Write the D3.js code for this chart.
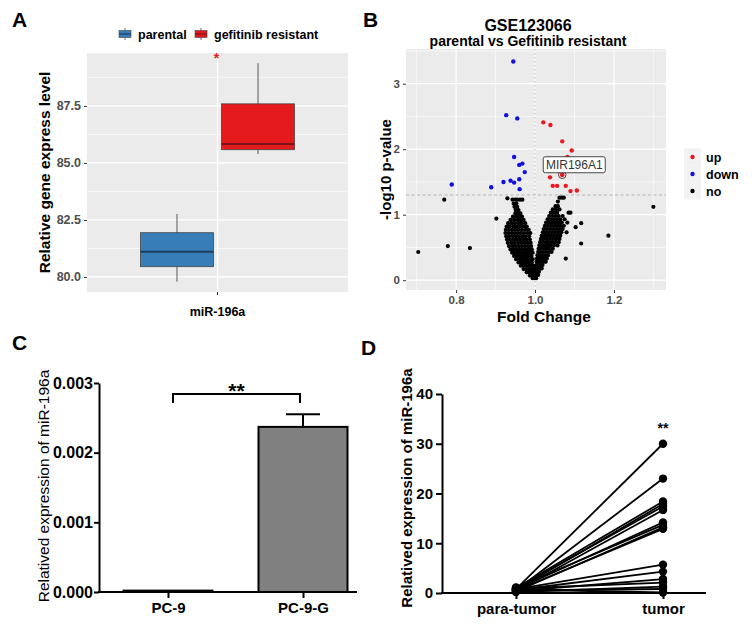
<!DOCTYPE html>
<html>
<head>
<meta charset="utf-8">
<script src="https://cdn.jsdelivr.net/npm/d3@7"></script>
<style>
body { margin: 0; background: #fff; }
svg { display: block; font-family: "Liberation Sans", Arial, sans-serif; }
</style>
</head>
<body>
<div id="fig"></div>
<script>
// ---------- data ----------
// A: boxplot of miR-196a
var boxGroups = ["parental", "gefitinib resistant"];
var boxColors = ["#377eb8", "#e41a1c"];
var boxMedColors = ["#1d3f5e", "#7a1416"];
var boxLow  = [79.79, 85.39];
var boxQ1   = [80.45, 85.58];
var boxMed  = [81.11, 85.83];
var boxQ3   = [81.94, 87.59];
var boxHigh = [82.76, 89.37];
var boxTicks = [80, 82.5, 85, 87.5];

// B: volcano plot  [fold change, -log10 p]
var upPts = [[1.021, 2.41], [1.039, 2.37], [1.069, 2.12], [1.093, 1.98], [1.082, 1.88],
  [1.038, 1.57], [1.045, 1.44], [1.056, 1.44], [1.078, 1.44], [1.090, 1.36], [1.106, 1.37]];
var downPts = [[0.945, 3.34], [0.927, 2.52], [0.955, 2.47], [0.947, 1.88], [0.960, 1.76],
  [0.968, 1.78], [0.974, 1.65], [0.789, 1.46], [0.889, 1.42], [0.920, 1.50], [0.938, 1.52],
  [0.947, 1.49], [0.960, 1.54], [0.961, 1.39]];
var labelGene = {name: "MIR196A1", fc: 1.069, p: 1.61};
var noPts = [[0.704, 0.43], [0.770, 1.23], [0.779, 0.52], [0.835, 0.49], [0.902, 0.94],
  [1.300, 1.12], [1.186, 0.68], [1.117, 0.56], [1.117, 0.87], [1.103, 0.81], [1.078, 0.33],
  [0.930, 1.25]];
var noLeftRows = [
  [1.23, [0.943, 0.950, 0.955, 0.962, 0.968]],
  [1.17, [0.946, 0.953]],
  [1.12, [0.948, 0.955]],
  [1.07, [0.951, 0.958]],
  [1.02, [0.950, 0.957, 0.963]],
  [0.97, [0.944, 0.953, 0.960, 0.967]],
  [0.92, [0.938, 0.947, 0.956, 0.963, 0.971]],
  [0.87, [0.932, 0.941, 0.949, 0.958, 0.966, 0.975]],
  [0.82, [0.928, 0.936, 0.945, 0.953, 0.962, 0.970, 0.979]],
  [0.77, [0.926, 0.934, 0.942, 0.950, 0.958, 0.967, 0.976, 0.984]],
  [0.72, [0.925, 0.933, 0.941, 0.948, 0.956, 0.964, 0.972, 0.981, 0.988]],
  [0.67, [0.927, 0.935, 0.944, 0.952, 0.960, 0.968, 0.976, 0.985]],
  [0.62, [0.929, 0.937, 0.946, 0.954, 0.962, 0.970, 0.978, 0.987]],
  [0.57, [0.931, 0.940, 0.948, 0.957, 0.965, 0.973, 0.981, 0.989]],
  [0.52, [0.934, 0.943, 0.951, 0.959, 0.967, 0.975, 0.983, 0.990]],
  [0.47, [0.938, 0.946, 0.954, 0.962, 0.970, 0.978, 0.986, 0.992]],
  [0.42, [0.942, 0.950, 0.958, 0.966, 0.974, 0.981, 0.988, 0.994]],
  [0.37, [0.947, 0.955, 0.963, 0.970, 0.977, 0.984, 0.991]],
  [0.32, [0.952, 0.960, 0.967, 0.974, 0.981, 0.988, 0.994]],
  [0.27, [0.958, 0.965, 0.972, 0.979, 0.986, 0.992]],
  [0.22, [0.964, 0.971, 0.978, 0.985, 0.991, 0.996]],
  [0.17, [0.971, 0.978, 0.985, 0.991, 0.996]],
  [0.12, [0.979, 0.986, 0.992, 0.997]],
  [0.07, [0.987, 0.993, 0.998]],
  [0.03, [0.994, 0.999, 1.003]]
];
var noRightRows = [
  [1.26, [1.062, 1.068, 1.073]],
  [1.20, [1.058]],
  [1.13, [1.052, 1.058]],
  [1.08, [1.045, 1.053, 1.062]],
  [1.03, [1.040, 1.048, 1.056, 1.085, 1.090]],
  [0.98, [1.036, 1.044, 1.052, 1.060, 1.070]],
  [0.93, [1.032, 1.040, 1.048, 1.056, 1.064, 1.075]],
  [0.88, [1.028, 1.036, 1.044, 1.052, 1.060, 1.068, 1.082]],
  [0.83, [1.025, 1.033, 1.041, 1.049, 1.057, 1.065, 1.073]],
  [0.78, [1.022, 1.030, 1.038, 1.046, 1.054, 1.062, 1.070]],
  [0.73, [1.020, 1.027, 1.035, 1.043, 1.051, 1.059, 1.067, 1.080]],
  [0.68, [1.017, 1.025, 1.032, 1.040, 1.048, 1.056, 1.064]],
  [0.63, [1.015, 1.022, 1.030, 1.038, 1.046, 1.054, 1.062]],
  [0.58, [1.013, 1.020, 1.028, 1.035, 1.043, 1.051, 1.060]],
  [0.53, [1.011, 1.018, 1.025, 1.032, 1.040, 1.048, 1.057]],
  [0.48, [1.009, 1.016, 1.023, 1.030, 1.037, 1.045]],
  [0.43, [1.008, 1.014, 1.021, 1.028, 1.035, 1.042]],
  [0.38, [1.006, 1.012, 1.019, 1.026, 1.033]],
  [0.33, [1.005, 1.011, 1.017, 1.024, 1.030]],
  [0.28, [1.004, 1.009, 1.015, 1.021, 1.027]],
  [0.23, [1.003, 1.008, 1.013, 1.019]],
  [0.18, [1.002, 1.007, 1.012, 1.017]],
  [0.13, [1.001, 1.005, 1.010]],
  [0.08, [1.000, 1.004, 1.008]]
];
var volXTicks = [0.8, 1.0, 1.2];
var volYTicks = [0, 1, 2, 3];
var volLegend = ["up", "down", "no"];
var volColors = {up: "#e8191f", down: "#1010e0", no: "#000"};

// C: bar chart
var barCats = ["PC-9", "PC-9-G"];
var barVals = [0.00002, 0.00237];
var barErr  = [0, 0.00018];
var barTicks = [0, 0.001, 0.002, 0.003];

// D: paired samples
var pairCats = ["para-tumor", "tumor"];
var paraVals  = [0.8, 0.5, 1.0, 0.6, 0.9, 0.4, 0.7, 1.1, 0.3, 0.5, 0.8, 0.6, 0.4, 0.9, 0.2, 0.5, 0.7];
var tumorVals = [30.0, 23.0, 18.4, 17.9, 17.4, 16.7, 14.2, 13.7, 13.2, 12.9, 5.7, 4.3, 2.8, 2.1, 1.3, 0.8, 0.1];
var pairTicks = [0, 10, 20, 30, 40];

// ---------- drawing ----------
var svg = d3.select("#fig").append("svg")
    .attr("width", 752)
    .attr("height", 632);

svg.append("rect").attr("width", 752).attr("height", 632).attr("fill", "#fff");

function panelLabel(t, x, y) {
    svg.append("text").attr("x", x).attr("y", y).text(t)
        .attr("font-size", 21).attr("font-weight", "bold");
}
panelLabel("A", 12, 27);
panelLabel("B", 363, 27);
panelLabel("C", 12, 350);
panelLabel("D", 361, 355);

function ggAxis(g) {
    g.select(".domain").remove();
    g.selectAll(".tick line").attr("stroke", "#333");
    g.selectAll(".tick text").attr("fill", "#4d4d4d").attr("font-weight", "bold")
        .attr("font-family", "Liberation Sans, Arial, sans-serif");
}

// ===== Panel A =====
var aL = 87, aR = 348, aT = 53, aB = 292;
var yA = d3.scaleLinear().domain([79.34, 89.82]).range([aB, aT]);
var xA = d3.scaleBand().domain(["miR-196a"]).range([aL, aR]);
var aMid = xA("miR-196a") + xA.bandwidth() / 2;
var xAg = d3.scaleBand().domain(boxGroups).range([aMid - 77, aMid + 77]).paddingInner(0.1);

var gA = svg.append("g");
gA.append("rect").attr("x", aL).attr("y", aT).attr("width", aR - aL).attr("height", aB - aT).attr("fill", "#ebebeb");
gA.selectAll(".minor").data(boxTicks.map(function(d) { return d + 1.25; })).join("line")
    .attr("x1", aL).attr("x2", aR).attr("y1", yA).attr("y2", yA)
    .attr("stroke", "#fff").attr("stroke-width", 0.6);
gA.selectAll(".major").data(boxTicks).join("line")
    .attr("x1", aL).attr("x2", aR).attr("y1", yA).attr("y2", yA)
    .attr("stroke", "#fff").attr("stroke-width", 1.2);
gA.append("line").attr("x1", aMid).attr("x2", aMid).attr("y1", aT).attr("y2", aB)
    .attr("stroke", "#fff").attr("stroke-width", 1.2);

boxGroups.forEach(function(gname, i) {
    var x0 = xAg(gname), w = xAg.bandwidth(), cx = x0 + w / 2;
    gA.append("line").attr("x1", cx).attr("x2", cx).attr("y1", yA(boxLow[i])).attr("y2", yA(boxHigh[i]))
        .attr("stroke", "#333").attr("stroke-width", 0.8);
    gA.append("rect").attr("x", x0).attr("y", yA(boxQ3[i])).attr("width", w)
        .attr("height", yA(boxQ1[i]) - yA(boxQ3[i]))
        .attr("fill", boxColors[i]).attr("stroke", "#444").attr("stroke-width", 0.8);
    gA.append("line").attr("x1", x0).attr("x2", x0 + w).attr("y1", yA(boxMed[i])).attr("y2", yA(boxMed[i]))
        .attr("stroke", boxMedColors[i]).attr("stroke-width", 2);
});

gA.append("text").attr("x", aMid - 1).attr("y", 63).attr("text-anchor", "middle")
    .attr("fill", "#e41a1c").attr("font-size", 14).attr("font-weight", "bold").text("*");

gA.append("g").attr("transform", "translate(" + aL + ",0)")
    .call(d3.axisLeft(yA).tickValues(boxTicks).tickFormat(d3.format(".1f")).tickSize(3).tickPadding(3))
    .call(ggAxis)
    .selectAll("text").attr("font-size", 12.5);
gA.append("g").attr("transform", "translate(0," + aB + ")")
    .call(d3.axisBottom(xA).tickSize(3).tickFormat(""))
    .call(ggAxis);
gA.append("text").attr("x", aMid).attr("y", 316).attr("text-anchor", "middle")
    .attr("font-size", 12.5).attr("font-weight", "bold").text("miR-196a");
gA.append("text").attr("transform", "translate(50," + ((aT + aB) / 2) + ") rotate(-90)")
    .attr("text-anchor", "middle").attr("font-size", 15.5).attr("font-weight", "bold")
    .text("Relative gene express level");

// legend A
var legA = gA.append("g");
var legX = [119, 195];
boxGroups.forEach(function(gname, i) {
    var lx = legX[i];
    legA.append("line").attr("x1", lx + 6).attr("x2", lx + 6).attr("y1", 28).attr("y2", 40)
        .attr("stroke", "#333").attr("stroke-width", 0.7);
    legA.append("rect").attr("x", lx).attr("y", 30.5).attr("width", 12).attr("height", 7)
        .attr("fill", boxColors[i]).attr("stroke", "#444").attr("stroke-width", 0.6);
    legA.append("line").attr("x1", lx).attr("x2", lx + 12).attr("y1", 34).attr("y2", 34)
        .attr("stroke", boxMedColors[i]).attr("stroke-width", 1.2);
    legA.append("text").attr("x", lx + 19).attr("y", 38.5).attr("font-size", 12.5)
        .attr("font-weight", "bold").text(gname);
});

// ===== Panel B =====
var bL = 406, bR = 666, bT = 49, bB = 290;
var xB = d3.scaleLinear().domain([0.673, 1.332]).range([bL, bR]);
var yB = d3.scaleLinear().domain([-0.15, 3.53]).range([bB, bT]);
var gB = svg.append("g");
gB.append("rect").attr("x", bL).attr("y", bT).attr("width", bR - bL).attr("height", bB - bT).attr("fill", "#ebebeb");
gB.selectAll(".mx").data(volXTicks.map(function(d) { return d - 0.1; }).concat([1.3])).join("line")
    .attr("x1", xB).attr("x2", xB).attr("y1", bT).attr("y2", bB).attr("stroke", "#fff").attr("stroke-width", 0.6);
gB.selectAll(".my").data(volYTicks.map(function(d) { return d + 0.5; })).join("line")
    .attr("x1", bL).attr("x2", bR).attr("y1", yB).attr("y2", yB).attr("stroke", "#fff").attr("stroke-width", 0.6);
gB.selectAll(".Mx").data(volXTicks).join("line")
    .attr("x1", xB).attr("x2", xB).attr("y1", bT).attr("y2", bB).attr("stroke", "#fff").attr("stroke-width", 1.2);
gB.selectAll(".My").data(volYTicks).join("line")
    .attr("x1", bL).attr("x2", bR).attr("y1", yB).attr("y2", yB).attr("stroke", "#fff").attr("stroke-width", 1.2);
gB.append("line").attr("x1", xB(1)).attr("x2", xB(1)).attr("y1", bT).attr("y2", bB)
    .attr("stroke", "#b5b5b5").attr("stroke-width", 1).attr("stroke-dasharray", "1.5,2.5");
gB.append("line").attr("x1", bL).attr("x2", bR).attr("y1", yB(-Math.log10(0.05))).attr("y2", yB(-Math.log10(0.05)))
    .attr("stroke", "#b5b5b5").attr("stroke-width", 1).attr("stroke-dasharray", "3,2.5");

var blackPts = noPts.slice();
noLeftRows.concat(noRightRows).forEach(function(r) {
    r[1].forEach(function(x) { blackPts.push([x, r[0]]); });
});
function dots(data, color, r) {
    gB.append("g").selectAll("circle").data(data).join("circle")
        .attr("cx", function(d) { return xB(d[0]); })
        .attr("cy", function(d) { return yB(d[1]); })
        .attr("r", r).attr("fill", color);
}
dots(blackPts, volColors.no, 2.1);
dots(downPts, volColors.down, 2.2);
dots(upPts, volColors.up, 2.2);

// labelled gene
gB.append("circle").attr("cx", xB(labelGene.fc)).attr("cy", yB(labelGene.p)).attr("r", 2.4).attr("fill", volColors.up);
gB.append("circle").attr("cx", xB(labelGene.fc)).attr("cy", yB(labelGene.p)).attr("r", 3.8)
    .attr("fill", "none").attr("stroke", "#444").attr("stroke-width", 1);
var lb = gB.append("g").attr("transform", "translate(" + (xB(labelGene.fc) + 12) + "," + (yB(labelGene.p) - 10) + ")");
lb.append("rect").attr("x", -31).attr("y", -8).attr("width", 62).attr("height", 16).attr("rx", 2)
    .attr("fill", "#fff").attr("stroke", "#333").attr("stroke-width", 0.9);
lb.append("text").attr("text-anchor", "middle").attr("y", 4.5).attr("font-size", 12).attr("fill", "#333").text(labelGene.name);

gB.append("g").attr("transform", "translate(" + bL + ",0)")
    .call(d3.axisLeft(yB).tickValues(volYTicks).tickFormat(d3.format("d")).tickSize(3).tickPadding(3))
    .call(ggAxis)
    .selectAll("text").attr("font-size", 11.5);
gB.append("g").attr("transform", "translate(0," + bB + ")")
    .call(d3.axisBottom(xB).tickValues(volXTicks).tickFormat(d3.format(".1f")).tickSize(3).tickPadding(3))
    .call(ggAxis)
    .selectAll("text").attr("font-size", 11.5);
gB.append("text").attr("x", 544).attr("y", 322).attr("text-anchor", "middle")
    .attr("font-size", 15.5).attr("font-weight", "bold").text("Fold Change");
gB.append("text").attr("transform", "translate(391," + ((bT + bB) / 2) + ") rotate(-90)")
    .attr("text-anchor", "middle").attr("font-size", 15).attr("font-weight", "bold").text("-log10 p-value");
gB.append("text").attr("x", 528).attr("y", 31).attr("text-anchor", "middle")
    .attr("font-size", 16).attr("font-weight", "bold").text("GSE123066");
gB.append("text").attr("x", 528).attr("y", 46).attr("text-anchor", "middle")
    .attr("font-size", 14).attr("font-weight", "bold").text("parental vs Gefitinib resistant");

var legB = gB.append("g");
volLegend.forEach(function(k, i) {
    var ly = 157 + i * 17;
    legB.append("rect").attr("x", 684).attr("y", ly - 8.5).attr("width", 17).attr("height", 17).attr("fill", "#f2f2f2");
    legB.append("circle").attr("cx", 692.5).attr("cy", ly).attr("r", 2.2).attr("fill", volColors[k]);
    legB.append("text").attr("x", 706).attr("y", ly + 4.5).attr("font-size", 12.5).attr("font-weight", "bold").text(k);
});

// ===== Panel C =====
var cL = 99, cR = 357;
var yC = d3.scaleLinear().domain([0, 0.003]).range([592, 383]);
var xC = d3.scalePoint().domain(barCats).range([168, 303]);
var barW = 89;
var gC = svg.append("g");
gC.selectAll(".bar").data(barCats).join("rect")
    .attr("x", function(d) { return xC(d) - barW / 2; })
    .attr("y", function(d, i) { return yC(barVals[i]); })
    .attr("width", barW)
    .attr("height", function(d, i) { return yC(0) - yC(barVals[i]); })
    .attr("fill", "#808080").attr("stroke", "#000").attr("stroke-width", 2);
barCats.forEach(function(c, i) {
    if (!barErr[i]) return;
    var x = xC(c), top = yC(barVals[i] + barErr[i]);
    gC.append("line").attr("x1", x).attr("x2", x).attr("y1", yC(barVals[i])).attr("y2", top)
        .attr("stroke", "#000").attr("stroke-width", 2);
    gC.append("line").attr("x1", x - 17).attr("x2", x + 17).attr("y1", top).attr("y2", top)
        .attr("stroke", "#000").attr("stroke-width", 2);
});
gC.append("g").attr("transform", "translate(" + cL + ",0)")
    .call(d3.axisLeft(yC).tickValues(barTicks).tickFormat(d3.format(".3f")).tickSize(5).tickSizeOuter(0).tickPadding(1))
    .call(function(g) {
        g.selectAll("path,line").attr("stroke", "#000").attr("stroke-width", 2);
        g.selectAll("text").attr("font-size", 16).attr("font-weight", "bold").attr("fill", "#000");
    });
gC.append("line").attr("x1", cL - 1).attr("x2", cR).attr("y1", yC(0)).attr("y2", yC(0))
    .attr("stroke", "#000").attr("stroke-width", 2);
gC.append("g").attr("transform", "translate(0," + yC(0) + ")")
    .call(d3.axisBottom(xC).tickSize(6).tickPadding(4))
    .call(function(g) {
        g.select(".domain").remove();
        g.selectAll("line").attr("stroke", "#000").attr("stroke-width", 2);
        g.selectAll("text").attr("font-size", 15).attr("font-weight", "bold").attr("fill", "#000");
    });
// significance bracket
var brY = 394;
gC.append("path")
    .attr("d", "M" + (xC(barCats[0]) + 5) + "," + (brY + 9) + "V" + brY + "H" + (xC(barCats[1]) - 3) + "V" + (brY + 9))
    .attr("fill", "none").attr("stroke", "#000").attr("stroke-width", 2);
gC.append("text").attr("x", (xC(barCats[0]) + xC(barCats[1])) / 2 + 1).attr("y", 398).attr("text-anchor", "middle")
    .attr("font-size", 21).attr("font-weight", "bold").text("**");
gC.append("text").attr("transform", "translate(49,486) rotate(-90)")
    .attr("text-anchor", "middle").attr("font-size", 15.5).text("Relatived expression of miR-196a");

// ===== Panel D =====
var dL = 442, dR = 706;
var yD = d3.scaleLinear().domain([0, 40]).range([593, 394]);
var xD = d3.scalePoint().domain(pairCats).range([516, 663]);
var gD = svg.append("g");
gD.append("g").attr("transform", "translate(" + dL + ",0)")
    .call(d3.axisLeft(yD).tickValues(pairTicks).tickSize(6).tickSizeOuter(0).tickPadding(3))
    .call(function(g) {
        g.selectAll("path,line").attr("stroke", "#000").attr("stroke-width", 2);
        g.selectAll("text").attr("font-size", 15).attr("font-weight", "bold").attr("fill", "#000");
    });
gD.append("line").attr("x1", dL - 1).attr("x2", dR).attr("y1", yD(0)).attr("y2", yD(0))
    .attr("stroke", "#000").attr("stroke-width", 2);
gD.append("g").attr("transform", "translate(0," + yD(0) + ")")
    .call(d3.axisBottom(xD).tickSize(6).tickPadding(4))
    .call(function(g) {
        g.select(".domain").remove();
        g.selectAll("line").attr("stroke", "#000").attr("stroke-width", 2);
        g.selectAll("text").attr("font-size", 15).attr("font-weight", "bold").attr("fill", "#000");
    });
gD.selectAll(".pair").data(paraVals).join("line")
    .attr("x1", xD(pairCats[0])).attr("x2", xD(pairCats[1]))
    .attr("y1", function(d) { return yD(d); })
    .attr("y2", function(d, i) { return yD(tumorVals[i]); })
    .attr("stroke", "#000").attr("stroke-width", 1.8);
gD.selectAll(".pp").data(paraVals).join("circle")
    .attr("cx", xD(pairCats[0])).attr("cy", function(d) { return yD(d); }).attr("r", 4.2).attr("fill", "#000");
gD.selectAll(".tp").data(tumorVals).join("circle")
    .attr("cx", xD(pairCats[1])).attr("cy", function(d) { return yD(d); }).attr("r", 4.2).attr("fill", "#000");
gD.append("text").attr("x", xD(pairCats[1])).attr("y", 433).attr("text-anchor", "middle")
    .attr("font-size", 14).attr("font-weight", "bold").text("**");
gD.append("text").attr("transform", "translate(412,488) rotate(-90)")
    .attr("text-anchor", "middle").attr("font-size", 15).attr("font-weight", "bold")
    .text("Relatived expression of miR-196a");
</script>
</body>
</html>
